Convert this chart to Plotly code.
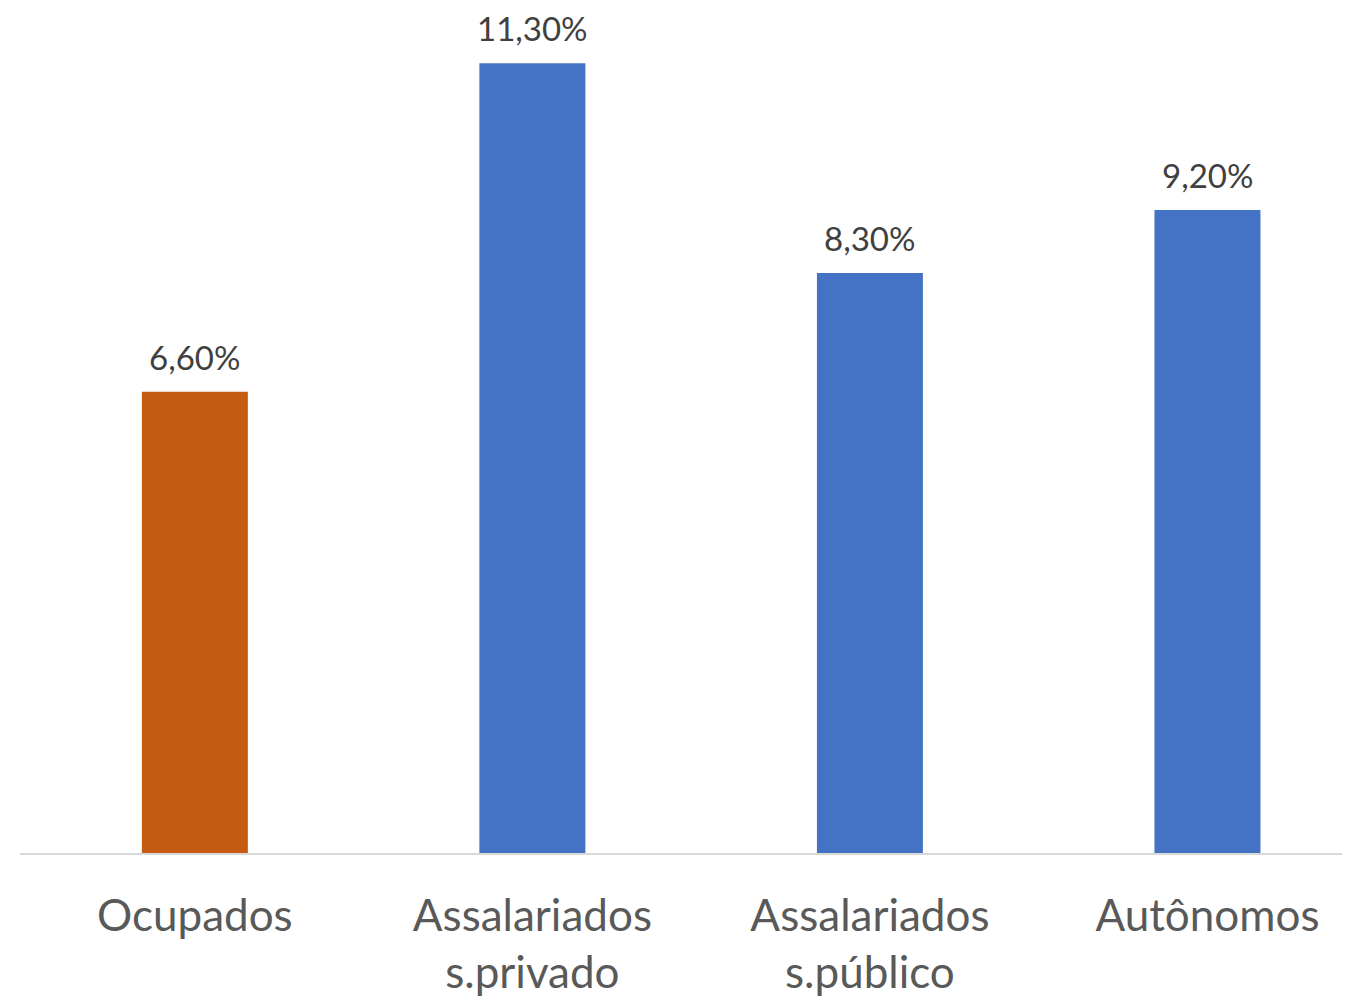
import plotly.graph_objects as go

categories = ["Ocupados", "Assalariados<br>s.privado", "Assalariados<br>s.público", "Autônomos"]
values = [6.6, 11.3, 8.3, 9.2]
labels = ["6,60%", "11,30%", "8,30%", "9,20%"]
colors = ["#C55A11", "#4472C4", "#4472C4", "#4472C4"]

fig = go.Figure()

fig.add_trace(go.Bar(
    x=categories,
    y=values,
    marker=dict(color=colors, line=dict(width=0)),
    width=0.314,
    hoverinfo="skip"
))

# data labels above the bars
for cat, val, lab in zip(categories, values, labels):
    fig.add_annotation(
        x=cat, y=val, text=lab,
        showarrow=False,
        yanchor="bottom",
        yshift=13,
        font=dict(family="Lato", size=33, color="#404040")
    )

fig.update_layout(
    width=1350,
    height=997,
    margin=dict(l=12, r=0, t=0, b=152),
    paper_bgcolor="white",
    plot_bgcolor="white",
    showlegend=False,
    font=dict(family="Lato"),
    xaxis=dict(
        range=[-0.518, 3.446],
        automargin=False,
        showline=True,
        linecolor="#D9D9D9",
        linewidth=2,
        showgrid=False,
        ticks="",
        ticklabelstandoff=23,
        tickfont=dict(family="Lato", size=44, color="#595959"),
    ),
    yaxis=dict(
        range=[0, 12.09],
        visible=False,
        automargin=False,
        showgrid=False,
        zeroline=False,
    ),
)

fig.write_html("out.html")
